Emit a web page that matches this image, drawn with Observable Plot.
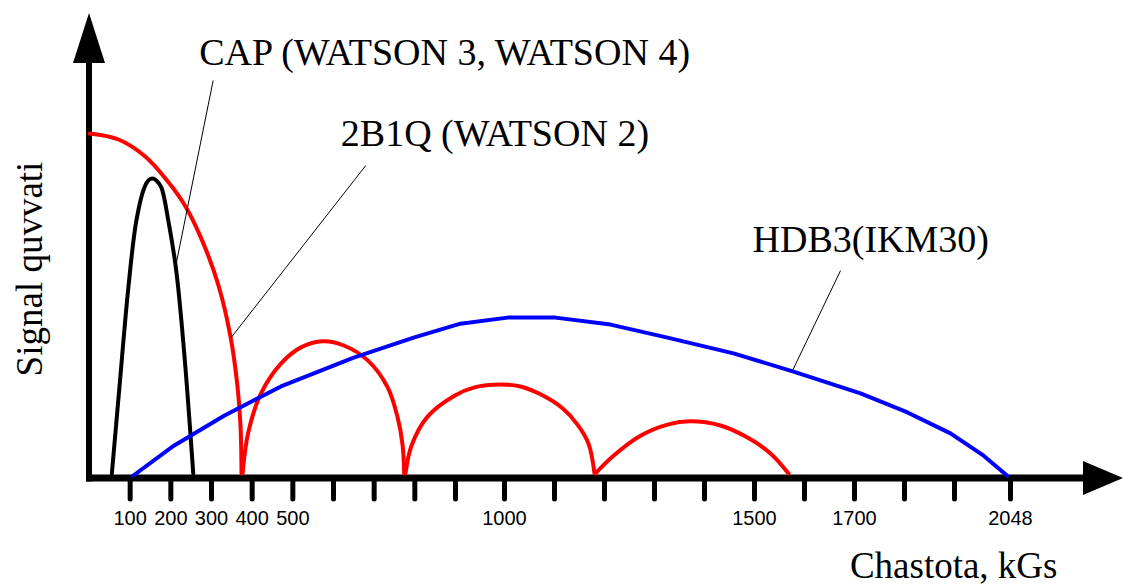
<!DOCTYPE html>
<html>
<head>
<meta charset="utf-8">
<script src="https://cdn.jsdelivr.net/npm/d3@7"></script>
<script src="https://cdn.jsdelivr.net/npm/@observablehq/plot@0.6"></script>
<style>
  html, body { margin: 0; padding: 0; background: #fff; }
  #chart { width: 1125px; height: 585px; }
</style>
</head>
<body>
<div id="chart"></div>
<script>
// ---- axis ticks (kGs) ----
const tickValues = [100, 200, 300, 400, 500, 600, 700, 800, 900, 1000, 1100, 1200, 1300, 1400, 1500, 1600, 1700, 1800, 1900, 2048];
const tickLabels = [100, 200, 300, 400, 500, 1000, 1500, 1700, 2048];

// ---- CAP (WATSON 3, WATSON 4) : black ----
const capFreq  = [55, 73.6, 95.6, 115.3, 134.9, 144.7, 154.5, 164.3, 176.6, 193.7, 213.3, 233.0, 255.1];
const capPower = [1.1, 19.6, 41.1, 55.5, 62.6, 64.1, 64.5, 64.1, 62.6, 55.5, 44.7, 26.9, 1.1];

// ---- 2B1Q (WATSON 2) : red, main lobe + side lobes ----
const lobe1Freq  = [0, 71.3, 137.7, 194.3, 236.1, 277.9, 317.2, 346.7, 363.9, 371.3, 373.8];
const lobe1Power = [74.2, 72.9, 69.2, 63.7, 58.5, 51.0, 41.5, 30.5, 19.8, 11.4, 1.1];
const lobe2Freq  = [376.5, 389.9, 421.8, 470.8, 519.9, 573.8, 625.3, 684.2, 733.2, 757.7, 770, 773.7];
const lobe2Power = [1.1, 9.7, 18.3, 24.7, 28.2, 29.5, 28.6, 25.4, 19.6, 13.1, 7.1, 1.1];
const lobe3Freq  = [777, 792, 831.3, 897.5, 938.8, 991.8, 1032, 1072, 1116, 1146, 1168, 1180];
const lobe3Power = [1.1, 7.1, 13.3, 17.8, 19.6, 20.2, 19.8, 18.1, 15.1, 11.6, 7.5, 1.1];
const lobe4Freq  = [1182, 1218, 1272, 1326, 1372, 1432, 1486, 1532, 1568];
const lobe4Power = [1.1, 4.9, 9.2, 11.6, 12.3, 11.4, 8.8, 5.4, 1.1];

// ---- HDB3 (IKM30) : blue ----
const hdbFreq  = [98, 208.4, 331, 470.8, 649.8, 797, 910, 1006, 1102, 1212, 1326, 1458, 1578, 1712, 1806, 1892, 1977, 2048];
const hdbPower = [0, 7.1, 13.5, 19.8, 26.0, 30.3, 33.3, 34.6, 34.6, 33.1, 30.3, 26.9, 23.0, 18.3, 14.2, 9.7, 4.9, 0];

// ---- annotations ----
const labelText  = ["CAP (WATSON 3, WATSON 4)", "2B1Q (WATSON 2)", "HDB3(IKM30)"];
const labelFreq  = [269.7, 618, 1496];
const labelPower = [89.0, 71.4, 48.8];
const leaderFromFreq  = [304.1, 679.3, 1672];
const leaderFromPower = [85.6, 67.3, 44.7];
const leaderToFreq    = [210.9, 348.2, 1576];
const leaderToPower   = [45.2, 30.3, 23.2];

const xTitle = "Chastota, kGs";
const yTitle = "Signal quvvati";

// ---- build tables ----
const rows = (fs, ps, s) => fs.map((f, i) => ({f, p: ps[i], s}));
const capRows = rows(capFreq, capPower, "cap");
const redRows = [
  ...rows(lobe1Freq, lobe1Power, "l1"),
  ...rows(lobe2Freq, lobe2Power, "l2"),
  ...rows(lobe3Freq, lobe3Power, "l3"),
  ...rows(lobe4Freq, lobe4Power, "l4")
];
const hdbRows = rows(hdbFreq, hdbPower, "hdb");
const labelRows = labelText.map((t, i) => ({t, f: labelFreq[i], p: labelPower[i]}));
const leaderRows = leaderFromFreq.map((f, i) => ({
  f1: f, p1: leaderFromPower[i], f2: leaderToFreq[i], p2: leaderToPower[i]
}));

const serif = "'Liberation Serif', 'Times New Roman', serif";
const sans = "'Liberation Sans', Arial, sans-serif";

// axes lines with filled arrowheads, placed by the scales and the frame
function axesWithArrows(index, scales, values, dimensions) {
  const {width, height, marginTop, marginRight, marginLeft, marginBottom} = dimensions;
  const x0 = typeof scales.x === "function" ? scales.x(0) : marginLeft;
  const y0 = typeof scales.y === "function" ? scales.y(0) : height - marginBottom;
  const right = width - marginRight;
  const top = marginTop;
  const g = d3.create("svg:g");
  g.append("line")
    .attr("x1", x0 - 3).attr("x2", right - 36).attr("y1", y0).attr("y2", y0)
    .attr("stroke", "black").attr("stroke-width", 7);
  g.append("line")
    .attr("x1", x0).attr("x2", x0).attr("y1", y0 + 3.5).attr("y2", top + 46)
    .attr("stroke", "black").attr("stroke-width", 6);
  g.append("path")
    .attr("d", `M${right},${y0}L${right - 40},${y0 - 17}L${right - 40},${y0 + 17}Z`)
    .attr("fill", "black");
  g.append("path")
    .attr("d", `M${x0},${top}L${x0 - 16},${top + 50}L${x0 + 16},${top + 50}Z`)
    .attr("fill", "black");
  return g.node();
}

const chart = Plot.plot({
  width: 1125,
  height: 585,
  marginTop: 13,
  marginRight: 2,
  marginBottom: 107,
  marginLeft: 89,
  style: {background: "white", color: "black", fontFamily: sans},
  x: {type: "linear", domain: [0, 900, 1000, 1900, 2048], range: [89, 455, 504, 954, 1010]},
  y: {domain: [0, 100], axis: null},
  marks: [
    axesWithArrows,
    Plot.line(capRows, {x: "f", y: "p", stroke: "black", strokeWidth: 4, curve: "catmull-rom"}),
    Plot.line(redRows, {x: "f", y: "p", z: "s", stroke: "#ff0000", strokeWidth: 4, curve: "catmull-rom"}),
    Plot.line(hdbRows, {x: "f", y: "p", stroke: "#0000ff", strokeWidth: 4, curve: "linear"}),
    Plot.link(leaderRows, {x1: "f1", y1: "p1", x2: "f2", y2: "p2", stroke: "black", strokeWidth: 1}),
    Plot.text(labelRows, {x: "f", y: "p", text: "t", textAnchor: "start", lineAnchor: "bottom",
      fontFamily: serif, fontSize: 38, fill: "black"}),
    Plot.axisX(tickValues, {
      tickSize: 21, tickPadding: 11, strokeWidth: 5, strokeLinecap: "round",
      tickFormat: d => tickLabels.includes(d) ? String(d) : "",
      fontSize: 20, fontFamily: sans, label: null, color: "black"
    }),
    Plot.text([xTitle], {frameAnchor: "bottom-right", dx: -66, dy: 99, textAnchor: "end",
      lineAnchor: "bottom", fontFamily: serif, fontSize: 37, fill: "black"}),
    Plot.text([yTitle], {frameAnchor: "left", dx: -59, dy: 23, rotate: -90, textAnchor: "middle",
      lineAnchor: "middle", fontFamily: serif, fontSize: 37, fill: "black"})
  ]
});
document.getElementById("chart").appendChild(chart);
</script>
</body>
</html>
